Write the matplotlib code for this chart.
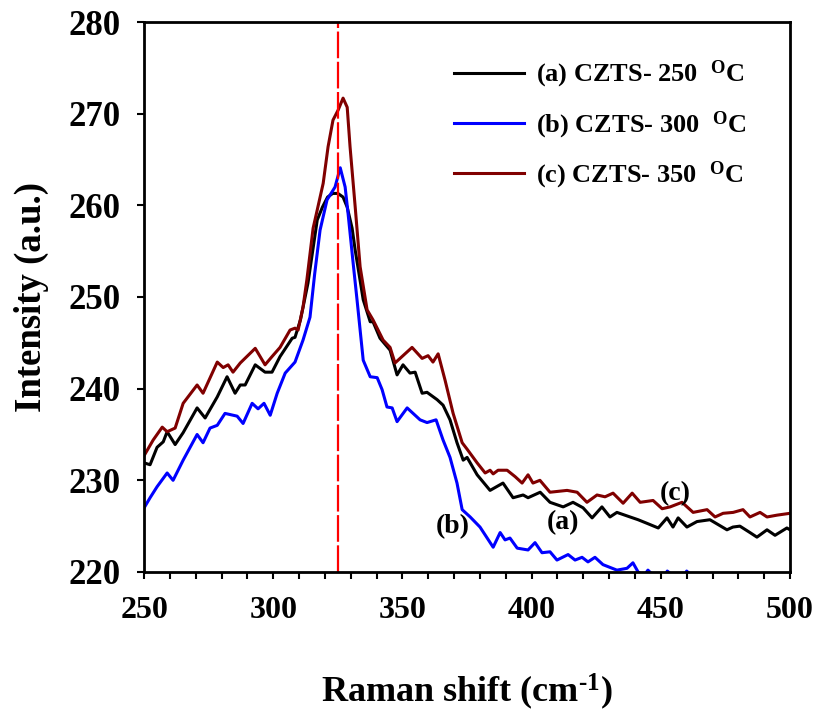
import matplotlib
matplotlib.use("Agg")
import matplotlib.pyplot as plt
from matplotlib.ticker import MultipleLocator

plt.rcParams['font.family'] = ['Liberation Serif', 'DejaVu Serif']
plt.rcParams['font.weight'] = 'bold'
plt.rcParams['mathtext.fontset'] = 'custom'
plt.rcParams['mathtext.rm'] = 'Liberation Serif:bold'
plt.rcParams['mathtext.it'] = 'Liberation Serif:bold'
plt.rcParams['mathtext.bf'] = 'Liberation Serif:bold'

# (a) CZTS-250 C
a_x = [250.0, 252.3, 255.0, 257.4, 258.9, 262.0, 265.1, 270.5, 273.6, 278.3, 282.1, 285.2, 287.2, 289.1,
       293.0, 296.8, 299.5, 302.6, 307.3, 308.4, 310.5, 313.4, 317.0, 319.0, 321.0, 323.0, 325.0,
       327.0, 328.6, 330.5, 331.7, 334.8,
       337.5, 338.6, 341.3, 345.2, 347.9, 350.2, 352.9, 354.9, 357.6, 359.5, 363.4, 365.7, 368.4,
       371.1, 373.5, 375.0, 378.9, 383.9, 388.9, 392.8, 396.7, 398.6, 403.3, 407.1, 412.2, 416.0,
       419.9, 423.4, 427.2, 430.3, 433.0, 438.1, 441.2, 444.7, 449.0, 452.4, 454.7, 456.7, 460.1,
       464.0, 469.0, 475.6, 477.9, 480.6, 484.5, 487.2, 491.1, 494.2, 498.8, 500.0]
a_y = [231.9, 231.7, 233.6, 234.2, 235.3, 233.9, 235.2, 237.9, 236.8, 239.1, 241.3, 239.5, 240.4, 240.4,
       242.6, 241.8, 241.8, 243.5, 245.5, 245.6, 247.5, 251.5, 258.4, 259.8, 260.9, 261.3, 261.3,
       260.9, 259.8, 257.5, 255.1, 249.7,
       247.3, 247.3, 245.5, 244.2, 241.5, 242.6, 241.7, 241.8, 239.5, 239.6, 238.8, 238.2, 236.6,
       234.1, 232.2, 232.5, 230.6, 228.9, 229.7, 228.1, 228.4, 228.1, 228.7, 227.6, 227.1, 227.6,
       227.0, 225.9, 227.1, 226.0, 226.5, 226.0, 225.7, 225.3, 224.8, 225.9, 224.9, 225.9, 224.9,
       225.5, 225.7, 224.6, 224.9, 225.0, 224.3, 223.8, 224.6, 224.0, 224.8, 224.6]

# (b) CZTS-300 C
b_x = [250.0, 252.3, 255.0, 258.9, 261.2, 265.1, 270.5, 272.8, 275.5, 278.3, 281.3, 286.0, 288.3,
       291.8, 294.1, 296.4, 298.8, 301.5, 304.6, 308.4, 311.5, 314.2, 316.0, 318.1, 320.8, 323.9,
       325.9, 327.8, 328.9, 330.9, 332.4, 334.8, 337.5, 340.2, 342.1, 344.0, 346.0, 347.9, 351.8,
       356.8, 359.5, 363.0, 365.7, 368.4, 371.1, 373.1, 376.2, 380.0, 385.1, 387.8, 389.7, 391.6,
       394.4, 398.6, 401.3, 404.0, 407.1, 409.8, 414.1, 416.8, 419.5, 421.8, 424.5, 427.6, 430.3,
       433.0, 436.9, 439.2, 441.2, 443.5, 445.0, 447.5, 451.5, 452.5, 455.0, 459.0, 460.0, 462.5,
       470.0, 480.0, 490.0, 500.0]
b_y = [227.0, 228.1, 229.3, 230.8, 230.0, 232.2, 235.0, 234.1, 235.7, 236.0, 237.3, 237.0, 236.2,
       238.4, 237.8, 238.4, 237.1, 239.5, 241.7, 242.9, 245.3, 247.8, 252.5, 257.3, 260.6, 262.0,
       264.1, 262.0, 259.2, 253.7, 249.7, 243.1, 241.3, 241.2, 239.9, 238.0, 237.9, 236.4, 237.9,
       236.6, 236.3, 236.6, 234.4, 232.5, 229.7, 226.8, 226.0, 224.9, 222.7, 224.3, 223.5, 223.7,
       222.6, 222.4, 223.2, 222.1, 222.2, 221.3, 221.9, 221.3, 221.6, 221.1, 221.6, 220.8, 220.5,
       220.2, 220.4, 221.0, 220.0, 219.6, 220.2, 219.5, 219.6, 220.1, 219.5, 219.6, 220.1, 219.4,
       219.2, 219.0, 218.8, 218.6]

# (c) CZTS-350 C
c_x = [250.0, 253.5, 257.0, 258.9, 262.0, 265.1, 270.5, 272.8, 278.3, 280.6, 282.5, 284.4, 287.2,
       293.0, 296.8, 299.5, 302.6, 306.5, 308.4, 309.6, 311.5, 313.0, 315.4, 317.0, 319.3, 321.2,
       323.1, 325.1, 327.0, 328.6, 329.7, 331.7, 333.6, 336.3, 338.6, 342.5, 345.2, 347.1, 353.7,
       357.6, 359.9, 361.8, 363.8, 366.5, 369.6, 373.1, 375.0, 378.9, 382.0, 383.9, 385.1, 387.0,
       390.5, 393.6, 396.3, 398.6, 400.5, 403.2, 407.1, 413.7, 417.6, 421.4, 425.3, 428.4, 431.5,
       435.4, 438.9, 442.0, 447.0, 450.5, 453.6, 458.2, 462.5, 467.9, 471.0, 474.1, 478.0, 481.8,
       484.5, 488.4, 491.1, 495.0, 500.0]
c_y = [232.7, 234.4, 235.8, 235.3, 235.7, 238.4, 240.4, 239.5, 242.9, 242.3, 242.6, 241.8, 242.8,
       244.4, 242.6, 243.5, 244.5, 246.4, 246.6, 246.4, 248.9, 251.9, 257.5, 259.5, 262.4, 266.4,
       269.3, 270.4, 271.7, 270.7, 266.4, 259.8, 253.3, 248.6, 247.5, 245.3, 244.5, 242.8, 244.5,
       243.3, 243.6, 242.9, 243.8, 240.9, 237.3, 234.1, 233.4, 231.9, 230.8, 231.1, 230.7, 231.1,
       231.1, 230.4, 229.7, 230.6, 229.7, 230.0, 228.7, 228.9, 228.7, 227.6, 228.4, 228.2, 228.6,
       227.5, 228.6, 227.6, 227.8, 226.9, 227.1, 227.6, 226.5, 226.8, 226.0, 226.4, 226.5, 226.8,
       226.0, 226.5, 226.0, 226.2, 226.4]

series_labels = ['(a) CZTS- 250  $^{\\mathregular{O}}$C',
                 '(b) CZTS- 300  $^{\\mathregular{O}}$C',
                 '(c) CZTS- 350  $^{\\mathregular{O}}$C']
series_colors = ['#000000', '#0000ff', '#800000']
peak_x = 325

fig = plt.figure(figsize=(8.19, 7.2), dpi=100)
ax = fig.add_axes([0.176, 0.2056, 0.7886, 0.7638])

lw = 2.2
ax.plot(a_x, a_y, color=series_colors[0], lw=lw, label=series_labels[0], solid_joinstyle='round')
ax.plot(b_x, b_y, color=series_colors[1], lw=lw, label=series_labels[1], solid_joinstyle='round')
ax.plot(c_x, c_y, color=series_colors[2], lw=lw, label=series_labels[2], solid_joinstyle='round')
ax.axvline(peak_x, color='red', lw=1.6, dashes=(12, 1.6))

ax.text(412, 225.4, '(a)', fontsize=20, fontweight='bold', ha='center', va='center')
ax.text(369.5, 225.0, '(b)', fontsize=20, fontweight='bold', ha='center', va='center')
ax.text(455.5, 228.6, '(c)', fontsize=20, fontweight='bold', ha='center', va='center')

ax.set_xlim(250, 500)
ax.set_ylim(220, 280)
ax.xaxis.set_major_locator(MultipleLocator(50))
ax.xaxis.set_minor_locator(MultipleLocator(10))
ax.yaxis.set_major_locator(MultipleLocator(10))
ax.tick_params(axis='both', which='both', direction='out', width=1.5, length=5,
               top=False, right=False)
ax.tick_params(axis='x', pad=12, labelsize=23)
ax.tick_params(axis='y', pad=12, labelsize=25)
for lab in ax.get_xticklabels() + ax.get_yticklabels():
    lab.set_fontweight('bold')
for sp in ax.spines.values():
    sp.set_linewidth(2)

ax.set_xlabel('Raman shift (cm$^{\\text{-1}}$)', fontsize=26, fontweight='bold', labelpad=34)
ax.set_ylabel('Intensity (a.u.)', fontsize=26.5, fontweight='bold', labelpad=14)

leg = ax.legend(loc='upper left', bbox_to_anchor=(0.464, 0.952), borderaxespad=0, frameon=False,
                prop={'size': 19, 'weight': 'bold'}, handlelength=2.65,
                labelspacing=0.72, handletextpad=0.45)
for line in leg.get_lines():
    line.set_linewidth(2.2)

fig.savefig('out.png', dpi=100)
